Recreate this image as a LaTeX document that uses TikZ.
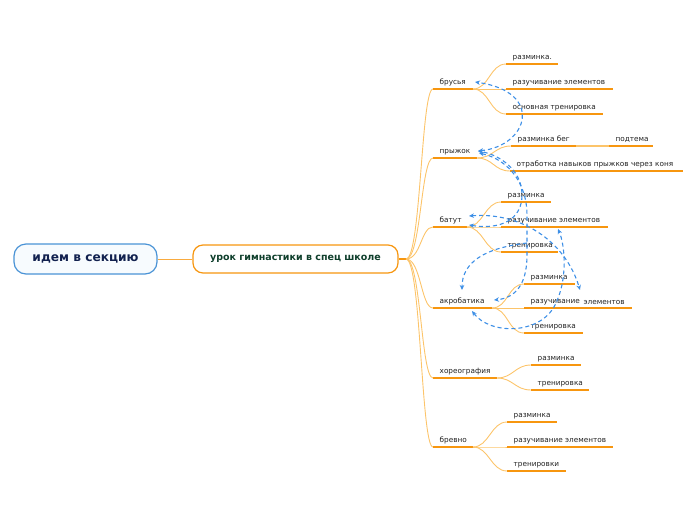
\documentclass[tikz,border=0pt]{standalone}
\usepackage{fontspec}
\setmainfont{DejaVu Sans}
\usetikzlibrary{arrows.meta}
\definecolor{org}{HTML}{F7960F}
\definecolor{orgl}{HTML}{FCC46A}
\definecolor{rel}{HTML}{3D8FE6}
\definecolor{rootb}{HTML}{4A93D6}
\definecolor{rootf}{HTML}{F7FBFE}
\definecolor{roott}{HTML}{12214F}
\definecolor{centt}{HTML}{0F3F2C}
\definecolor{lbltxt}{HTML}{222222}
\tikzset{
  uline/.style={draw=org, line width=2pt},
  branch/.style={draw=orgl, line width=0.9pt},
  lbl/.style={anchor=base west, inner sep=0pt, font=\fontsize{7.3}{8}\selectfont, text=lbltxt},
  relline/.style={draw=rel, line width=1.1pt, dash pattern=on 4pt off 3pt},
  tip/.style={-{Stealth[length=5pt,width=4.5pt]}},
  tips/.style={{Stealth[length=5pt,width=4.5pt]}-{Stealth[length=5pt,width=4.5pt]}},
  rootbox/.style={draw=rootb, fill=rootf, line width=1.2pt, rounded corners=12pt,
    minimum width=143pt, minimum height=30pt, inner sep=0pt,
    font=\bfseries\fontsize{12.2}{14}\selectfont, text=roott},
  centbox/.style={draw=org, fill=white, line width=1.2pt, rounded corners=10pt,
    minimum width=205pt, minimum height=28pt, inner sep=0pt,
    font=\bfseries\fontsize{9.5}{11}\selectfont, text=centt}
}
\newcommand\mmitem[5]{%
  \coordinate (#1L) at (#2,#4);
  \coordinate (#1R) at (#3,#4);
  \draw[uline] (#1L) -- (#1R);
  \node[lbl] (#1T) at ([xshift=6.5pt,yshift=5pt]#1L) {#5};
}
\newcommand\mmlink[2]{\draw[branch] (#1R) .. controls +(16,0) and +(-16,0) .. (#2L);}
\newcommand\mmbranch[1]{\draw[branch] (hub) .. controls +(15,0) and +(-12,0) .. (#1L);}
\begin{document}
\begin{tikzpicture}[x=1pt,y=-1pt]
\useasboundingbox (0,0) rectangle (696,520);
\node[rootbox] (root) at (85.5,259) {идем в секцию};
\node[centbox] (cent) at (295.5,259) {урок гимнастики в спец школе};
\draw[draw=org!80, line width=1pt] (root.east) -- (cent.west);
\coordinate (hub) at (406,259);
\draw[draw=org, line width=1.3pt] (cent.east) -- (hub);

% branches
\mmitem{br}{433}{473}{89}{брусья}
\mmitem{brA}{506}{558}{64}{разминка.}
\mmitem{brB}{506}{613}{89}{разучивание элементов}
\mmitem{brC}{506}{603}{114}{основная тренировка}

\mmitem{pr}{433}{477}{158}{прыжок}
\mmitem{prA}{511}{576}{146}{разминка бег}
\mmitem{prAa}{609}{653}{146}{подтема}
\mmitem{prB}{510}{683}{171}{отработка навыков прыжков через коня}

\mmitem{ba}{433}{467}{227}{батут}
\mmitem{baA}{501}{551}{202}{разминка}
\mmitem{baB}{501}{608}{227}{разучивание элементов}
\mmitem{baC}{501}{558}{252}{тренировка}

\mmitem{ak}{433}{492}{308}{акробатика}
\mmitem{akA}{524}{575}{284}{разминка}
\mmitem{akB}{524}{632}{308}{разучивание\hspace{1.5pt} \raisebox{-1pt}{элементов}}
\mmitem{akC}{524}{583}{333}{тренировка}

\mmitem{ho}{433}{497}{378}{хореография}
\mmitem{hoA}{531}{581}{365}{разминка}
\mmitem{hoB}{531}{589}{390}{тренировка}

\mmitem{bv}{433}{473}{447}{бревно}
\mmitem{bvA}{507}{557}{422}{разминка}
\mmitem{bvB}{507}{613}{447}{разучивание элементов}
\mmitem{bvC}{507}{566}{471}{тренировки}

\mmbranch{br}\mmbranch{pr}\mmbranch{ba}\mmbranch{ak}\mmbranch{ho}\mmbranch{bv}
\mmlink{br}{brA}\mmlink{br}{brB}\mmlink{br}{brC}
\mmlink{pr}{prA}\mmlink{pr}{prB}
\draw[draw=orgl, line width=1.6pt] (prAR) -- (prAaL);
\mmlink{ba}{baA}\mmlink{ba}{baB}\mmlink{ba}{baC}
\mmlink{ak}{akA}\mmlink{ak}{akB}\mmlink{ak}{akC}
\mmlink{ho}{hoA}\mmlink{ho}{hoB}
\mmlink{bv}{bvA}\mmlink{bv}{bvB}\mmlink{bv}{bvC}

% relations
\coordinate (aBr) at (475,82);
\coordinate (aPr) at (478,151);
\coordinate (aPrb) at (479,153);
\coordinate (aBa1) at (469,216);
\coordinate (aBa2) at (469,225);
\coordinate (aAk) at (494,300);
\coordinate (aAkT) at (462,290);
\coordinate (aAkB) at (472,311);
\coordinate (aBaR) at (558,229);
\coordinate (aAkR) at (580,290);
\coordinate (sBaC) at (527,243);

\draw[relline, tips] (aPr) .. controls (528,146) and (545,92) .. (aBr);
\draw[relline, tips] (aPrb) .. controls (510,160) and (527,185) .. (527,215) -- (527,255) .. controls (527,285) and (515,298) .. (aAk);
\draw[relline, tips] (aBa2) .. controls (500,230) and (522,220) .. (522,195) .. controls (522,170) and (500,155) .. (aPr);
\draw[relline, tips] (aBa1) .. controls (520,212) and (565,240) .. (aAkR);
\draw[relline, tips] (aAkB) .. controls (490,335) and (540,335) .. (555,305) .. controls (568,280) and (565,245) .. (aBaR);
\draw[relline, tip] (sBaC) .. controls (485,248) and (462,262) .. (aAkT);
\end{tikzpicture}
\end{document}
